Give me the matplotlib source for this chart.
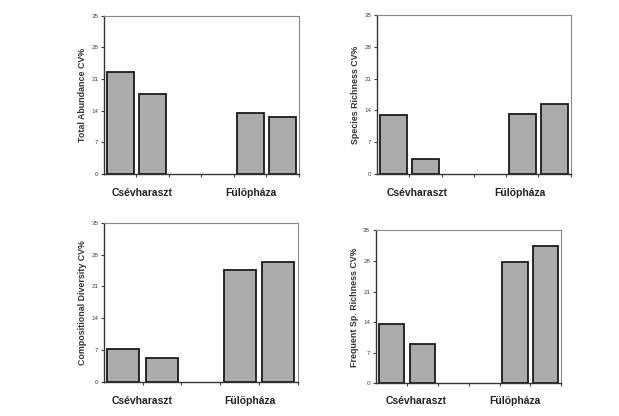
import matplotlib.pyplot as plt
from matplotlib.transforms import blended_transform_factory

plt.rcParams['font.family'] = ['Liberation Sans', 'DejaVu Sans']

sites = ["Csévharaszt", "Fülöpháza"]

ylabels = ["Total Abundance CV%", "Species Richness CV%",
           "Compositional Diversity CV%", "Frequent Sp. Richness CV%"]

# CV% values, two bars per site
abundance = [22.5, 17.7, 13.5, 12.7]
richness = [13.0, 3.2, 13.2, 15.4]
comp_div = [7.2, 5.3, 24.5, 26.4]
freq_rich = [13.5, 8.9, 27.8, 31.5]

yticks = [0, 7, 14, 21, 28, 35]

# panel layout: axes rect, bar slots, number of slots, bar width, site label x
panels = [
    ([0.168, 0.582, 0.315, 0.380], [0, 1, 4, 5], 6, 0.84, [0.68, 4.03]),
    ([0.609, 0.582, 0.313, 0.382], [0, 1, 4, 5], 6, 0.83, [0.75, 3.94]),
    ([0.168, 0.081, 0.313, 0.384], [0, 1, 3, 4], 5, 0.83, [0.48, 3.26]),
    ([0.607, 0.079, 0.300, 0.367], [0, 1, 4, 5], 6, 0.81, [0.81, 3.99]),
]
series = [abundance, richness, comp_div, freq_rich]

fig = plt.figure(figsize=(6.19, 4.16), dpi=100)
fig.patch.set_facecolor("white")

for (rect, slots, nslots, width, labx), vals, ylab in zip(panels, series, ylabels):
    ax = fig.add_axes(rect)
    ax.bar(slots, vals, width=width, color="#ababab",
           edgecolor="#1a1a1a", linewidth=1.3)
    ax.set_xlim(-0.5, nslots - 0.5)
    ax.set_ylim(0, 35)
    ax.set_yticks(yticks)
    ax.set_yticklabels([str(t) for t in yticks], fontsize=4.5, color="#333333")
    ax.set_xticks([i + 0.5 for i in range(nslots)])
    ax.set_xticklabels([])
    ax.tick_params(direction="out", length=2, width=0.8, pad=2, colors="#444444")
    ax.set_ylabel(ylab, fontsize=6.4, fontweight="bold", color="#333333", labelpad=3)
    for side in ["top", "right"]:
        ax.spines[side].set_color("#888888")
        ax.spines[side].set_linewidth(0.8)
    for side in ["left", "bottom"]:
        ax.spines[side].set_color("#333333")
        ax.spines[side].set_linewidth(1.0)
    trans = blended_transform_factory(ax.transData, ax.transAxes)
    for x, name in zip(labx, sites):
        ax.text(x, -0.12, name, transform=trans, ha="center", va="center",
                fontsize=7.5, fontweight="bold", color="#222222")

fig.savefig("out.png", dpi=100)
